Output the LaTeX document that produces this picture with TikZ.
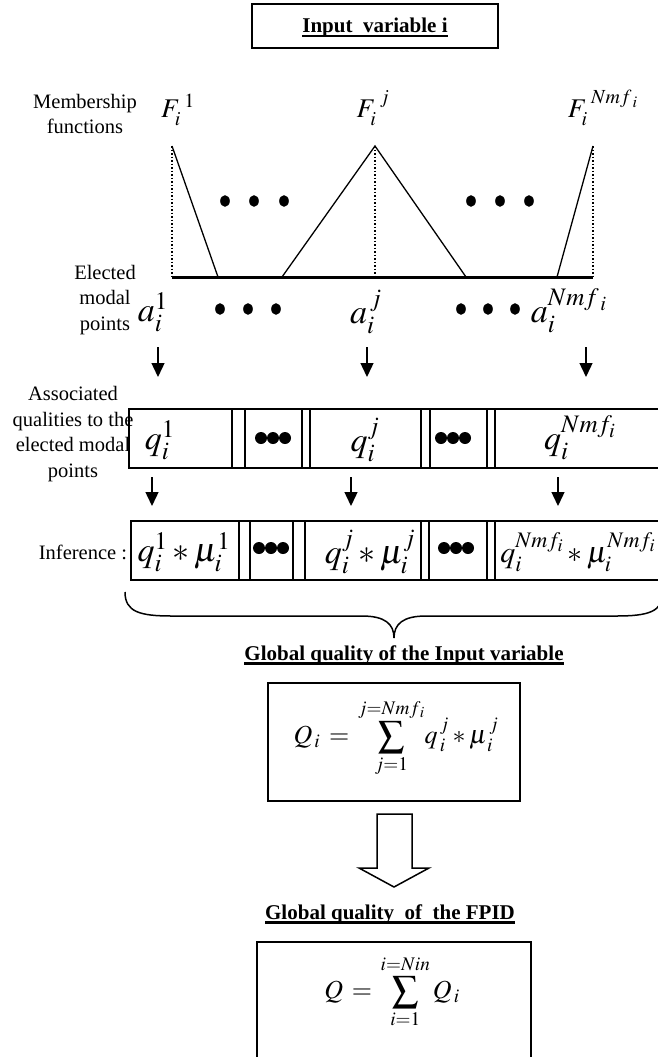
\documentclass[tikz,border=0pt]{standalone}
\usepackage{mathptmx}
\usepackage[no-math]{fontspec}
\setmainfont{Liberation Serif}
\usetikzlibrary{arrows.meta,calc}
\newcommand\myul[1]{\setbox0=\hbox{#1}\rlap{\rule[-4.5pt]{\wd0}{2.2pt}}\box0}
\begin{document}
\begin{tikzpicture}[x=1pt,y=-1pt,
  txt/.style={font=\fontsize{20.5}{25.5}\selectfont, align=center, inner sep=0pt},
  ttl/.style={font=\bfseries\fontsize{21}{25}\selectfont, inner sep=0pt, anchor=base},
  bigm/.style={font=\fontsize{34}{40}\selectfont, inner sep=0pt},
  midm/.style={font=\fontsize{30}{36}\selectfont, inner sep=0pt},
  fm/.style={font=\fontsize{27}{30}\selectfont, inner sep=0pt},
  sm/.style={font=\fontsize{26}{30}\selectfont, inner sep=0pt},
  frame/.style={line width=1.8pt},
  mline/.style={line width=1.3pt},
  arr/.style={line width=1.4pt, -{Triangle[length=14pt,width=13pt]}}
]
\useasboundingbox (0,0) rectangle (657,1057);

% title
\node[draw, frame, minimum width=246pt, minimum height=44pt, inner sep=0pt] (title) at (375,26) {};
\node[ttl] (titletxt) at (375,33) {\myul{Input~~variable i}};

% labels
\node[txt] (mf) at (85,114) {Membership\\functions};
\node[txt] (emp) at (105,300) {Elected\\modal\\points};
\node[txt] (aq) at (73,434) {Associated\\qualities to the\\elected modal\\points};
\node[txt] (inf) at (83,552) {Inference :};

% membership function labels
\node[fm] (F1) at (178,110) {$F_{i}^{\;1}$};
\node[fm] (Fj) at (373,108) {$F_{i}^{\;j}$};
\node[fm] (Fn) at (603,108) {$F_{i}^{\;Nmf_{\;i}}$};

% triangles
\coordinate (b0) at (172,277);
\coordinate (b1) at (593,277);
\coordinate (p1) at (172,146);
\coordinate (f1) at (218,277);
\coordinate (gl) at (282,277);
\coordinate (pj) at (375,146);
\coordinate (gr) at (466,277);
\coordinate (fn) at (557,277);
\coordinate (pn) at (593,146);
\draw[line width=3pt] (b0) -- (b1);
\draw[mline] (p1) -- (f1);
\draw[mline] (gl) -- (pj) -- (gr);
\draw[mline] (fn) -- (pn);
\draw[line width=1.5pt, dotted] (p1) -- (b0);
\draw[line width=1.5pt, dotted] (pj) -- (375,277);
\draw[line width=1.5pt, dotted] (pn) -- (b1);

% dots
\foreach \x in {225,254,284,471,500,529} \fill (\x,201) ellipse [x radius=4.8, y radius=5.8];
\foreach \x in {220,248,276,461,488,515} \fill (\x,309) ellipse [x radius=4.8, y radius=5.8];

% modal points
\node[bigm] (a1) at (153,312) {$a_i^1$};
\node[bigm] (aj) at (366,312) {$a_i^{\,j}$};
\node[bigm] (an) at (569,311) {$a_i^{Nmf_{\;i}}$};

% arrows row 1
\coordinate (u1) at (158,347); \coordinate (v1) at (158,377);
\coordinate (u2) at (367,347); \coordinate (v2) at (367,377);
\coordinate (u3) at (586,347); \coordinate (v3) at (586,377);
\draw[arr] (u1) -- (v1);
\draw[arr] (u2) -- (v2);
\draw[arr] (u3) -- (v3);

% row 1 cells
\draw[frame] (129,409) rectangle (663,468);
\foreach \x in {232,245,302,310,421,430,487,495} \draw[frame] (\x,409) -- (\x,468);
\node[bigm] (q1) at (160,440) {$q_i^1$};
\node[bigm] (qj) at (365,440) {$q_i^j$};
\node[bigm] (qn) at (580,438) {$q_i^{Nmf_i}$};
\foreach \c in {273,453} \foreach \d in {-12,0,12} \fill (\c+\d,438) circle [radius=6];

% arrows row 2
\coordinate (w1) at (152,477); \coordinate (z1) at (152,506);
\coordinate (w2) at (351,477); \coordinate (z2) at (351,506);
\coordinate (w3) at (558,477); \coordinate (z3) at (558,506);
\draw[arr] (w1) -- (z1);
\draw[arr] (w2) -- (z2);
\draw[arr] (w3) -- (z3);

% row 2 cells
\draw[frame] (131,521) rectangle (663,580);
\foreach \x in {239,250,293,305,421,429,487,495} \draw[frame] (\x,521) -- (\x,580);
\node[bigm] (r1) at (184,552) {$q_i^1 * \mu_i^1$};
\node[bigm] (rj) at (370,552) {$q_i^j * \mu_i^j$};
\node[midm] (rn) at (578,552) {$q_i^{Nmf_i} * \mu_i^{Nmf_i}$};
\foreach \c in {271,456} \foreach \d in {-12,0,12} \fill (\c+\d,548) circle [radius=6];

% brace
\draw[line width=1.5pt] (125,592) .. controls (125,612) and (140,616) .. (172,616)
  -- (362,616) .. controls (385,616) and (394,624) .. (394,638)
  .. controls (394,624) and (403,616) .. (426,616)
  -- (616,616) .. controls (648,616) and (663,612) .. (663,592);

\node[ttl] (t2) at (404,660) {\myul{Global quality of the Input variable}};

% Q_i box
\node[draw, frame, minimum width=252pt, minimum height=118pt, inner sep=0pt] (qibox) at (394,742) {};
\node[sm] (qi) at (396,738) {$\displaystyle Q_{\,i} \,=\, \sum_{j=1}^{j=Nmf_{\,i}}\! q_{\,i}^{\,j} * \mu_{\,i}^{\,j}$};

% hollow arrow
\draw[line width=1.5pt, line join=miter] (377,814) -- (412,814) -- (412,868) -- (429,868) -- (394,887) -- (359,868) -- (377,868) -- cycle;

\node[ttl] (t3) at (390,919) {\myul{Global quality~~of~~the FPID}};

% Q box
\node[draw, frame, minimum width=274pt, minimum height=140pt, inner sep=0pt, anchor=north] (qbox) at (394,941) {};
\node[sm] (q) at (392,992) {$\displaystyle Q \,=\, \sum_{i=1}^{i=Nin} Q_{\,i}$};
\end{tikzpicture}
\end{document}
